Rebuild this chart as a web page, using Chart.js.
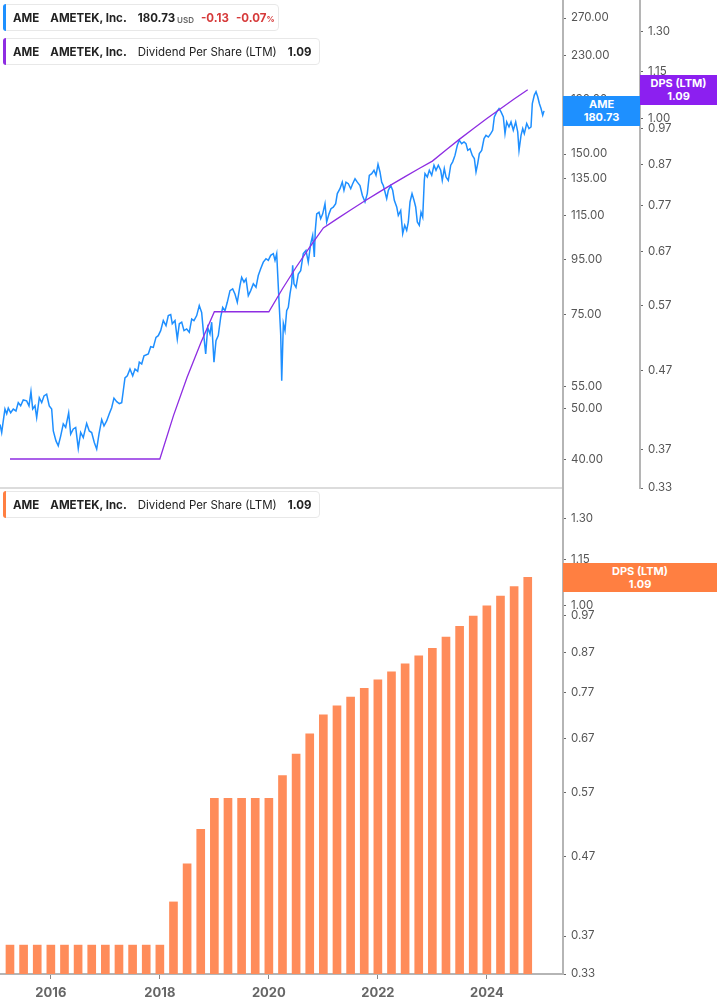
<!DOCTYPE html>
<html><head><meta charset="utf-8">
<script src="https://cdn.jsdelivr.net/npm/chart.js@4.4.1/dist/chart.umd.min.js"></script>
<style>
html,body{margin:0;padding:0;background:#fff;width:717px;height:1005px;overflow:hidden;font-family:Inter,"Noto Sans",sans-serif;}
#top{position:absolute;left:0;top:0;width:717px;height:497px;z-index:2;pointer-events:none;}
#bot{position:absolute;left:0;top:488px;width:717px;height:517px;z-index:1;}
.sep{position:absolute;left:0;top:487px;width:563px;height:2px;background:#dcdcdc;z-index:0;}
.leg{position:absolute;left:3px;height:27px;border:1px solid #e8e8e8;border-radius:4px;background:rgba(255,255,255,0.92);display:flex;align-items:center;padding-left:9px;font-size:11.5px;color:#222;white-space:nowrap;box-sizing:border-box;z-index:3;}
.leg .bar{position:absolute;left:-1px;top:-1px;bottom:-1px;width:3px;border-radius:3px 0 0 3px;}
.leg b{font-weight:700;}
.leg span{margin-right:11px;}
.sm{font-size:8px;color:#666;font-weight:600;margin-left:2px;position:relative;top:1px;}
.red{color:#d63a3a;font-weight:700;}
.box{position:absolute;color:#fff;font-weight:700;font-size:11px;line-height:13px;text-align:center;box-sizing:border-box;padding-top:2px;z-index:4;}
</style></head>
<body>
<div id="top"><canvas id="cTop" width="717" height="497"></canvas></div>
<div id="bot"><canvas id="cBot" width="717" height="517"></canvas></div>
<div class="sep"></div>

<div class="leg" style="top:4px;width:276px;"><div class="bar" style="background:#1e90ff"></div>
<span><b>AME</b></span><span><b>AMETEK, Inc.</b></span><span style="margin-right:7px"><b>180.73</b><span class="sm" style="margin-right:0">USD</span></span><span class="red" style="margin-right:7px">-0.13</span><span class="red">-0.07<span style="font-size:8px;margin:0">%</span></span></div>

<div class="leg" style="top:38px;width:317px;"><div class="bar" style="background:#8e2de2"></div>
<span><b>AME</b></span><span><b>AMETEK, Inc.</b></span><span>Dividend Per Share (LTM)</span><span><b>1.09</b></span></div>

<div class="leg" style="top:491px;width:317px;"><div class="bar" style="background:#ff7f41"></div>
<span><b>AME</b></span><span><b>AMETEK, Inc.</b></span><span>Dividend Per Share (LTM)</span><span><b>1.09</b></span></div>

<div class="box" style="left:563px;top:96px;width:77px;height:30px;background:#1e90ff;">AME<br>180.73</div>
<div class="box" style="left:640px;top:75px;width:77px;height:30px;background:#8c1ff0;">DPS (LTM)<br>1.09</div>
<div class="box" style="left:563px;top:563px;width:154px;height:29px;background:#ff7f41;">DPS (LTM)<br>1.09</div>

<script>
// ---- data ----
const priceDates = [2015.067,2015.098,2015.127,2015.158,2015.190,2015.219,2015.263,2015.311,2015.360,2015.402,2015.446,2015.494,2015.556,2015.599,2015.635,2015.667,2015.709,2015.740,2015.788,2015.832,2015.874,2015.923,2015.971,2016.015,2016.045,2016.094,2016.136,2016.180,2016.228,2016.272,2016.327,2016.364,2016.412,2016.456,2016.503,2016.547,2016.595,2016.657,2016.705,2016.749,2016.797,2016.841,2016.883,2016.933,2016.975,2017.024,2017.072,2017.116,2017.158,2017.208,2017.256,2017.300,2017.329,2017.360,2017.403,2017.452,2017.502,2017.544,2017.593,2017.623,2017.667,2017.709,2017.788,2017.832,2017.880,2017.929,2017.971,2018.015,2018.063,2018.113,2018.155,2018.199,2018.228,2018.278,2018.320,2018.357,2018.401,2018.443,2018.492,2018.540,2018.584,2018.626,2018.676,2018.723,2018.767,2018.797,2018.841,2018.878,2018.920,2018.951,2018.993,2019.030,2019.072,2019.116,2019.153,2019.195,2019.237,2019.287,2019.336,2019.378,2019.421,2019.470,2019.501,2019.544,2019.581,2019.623,2019.667,2019.715,2019.764,2019.806,2019.850,2019.898,2019.947,2019.990,2020.034,2020.082,2020.113,2020.144,2020.162,2020.192,2020.217,2020.236,2020.266,2020.296,2020.327,2020.357,2020.388,2020.419,2020.437,2020.461,2020.498,2020.540,2020.584,2020.632,2020.681,2020.723,2020.767,2020.804,2020.834,2020.852,2020.878,2020.920,2020.951,2020.988,2021.030,2021.061,2021.104,2021.140,2021.182,2021.226,2021.256,2021.305,2021.347,2021.378,2021.415,2021.458,2021.502,2021.538,2021.581,2021.623,2021.672,2021.715,2021.764,2021.806,2021.843,2021.887,2021.929,2021.966,2022.003,2022.039,2022.070,2022.100,2022.131,2022.162,2022.192,2022.236,2022.272,2022.302,2022.346,2022.375,2022.419,2022.456,2022.493,2022.529,2022.559,2022.590,2022.627,2022.663,2022.694,2022.724,2022.760,2022.792,2022.823,2022.852,2022.865,2022.907,2022.944,2022.988,2023.030,2023.067,2023.109,2023.153,2023.182,2023.219,2023.250,2023.293,2023.337,2023.373,2023.415,2023.458,2023.494,2023.538,2023.581,2023.617,2023.649,2023.691,2023.733,2023.770,2023.801,2023.832,2023.862,2023.905,2023.948,2023.984,2024.027,2024.071,2024.107,2024.137,2024.181,2024.223,2024.260,2024.302,2024.333,2024.364,2024.406,2024.443,2024.485,2024.529,2024.566,2024.590,2024.627,2024.658,2024.687,2024.731,2024.773,2024.810,2024.834,2024.871,2024.902,2024.933,2024.963,2024.994,2025.025,2025.049];
const priceValues = [46.6,45.0,47.3,49.8,48.8,50.0,49.0,49.8,49.4,51.2,50.5,51.8,51.6,50.5,53.7,49.8,50.5,48.0,52.3,51.2,52.7,53.1,50.5,49.8,45.3,43.4,42.5,44.3,46.7,46.0,49.0,44.7,45.7,46.0,42.0,45.0,44.0,46.8,45.3,45.0,43.1,41.9,44.7,47.6,46.3,47.3,48.8,50.1,52.2,51.4,51.0,51.2,53.9,57.0,57.5,59.2,57.5,59.2,58.6,61.0,60.5,62.7,63.2,65.2,65.0,67.9,68.4,69.9,73.0,71.4,74.6,74.9,72.0,73.0,67.4,72.0,72.5,69.9,70.4,69.4,73.5,73.0,74.6,77.9,75.6,69.9,63.2,70.9,68.9,72.5,61.0,66.9,68.4,74.0,77.3,76.2,79.0,83.1,83.7,81.9,79.0,84.9,88.0,86.2,87.4,81.3,83.1,85.6,84.3,88.7,91.3,94.0,95.4,94.7,96.8,97.5,94.7,97.5,89.3,77.3,68.9,56.3,72.1,69.9,76.2,77.3,81.9,85.6,92.7,85.6,84.3,89.3,90.6,97.5,98.9,94.0,101.7,105.5,96.1,107.8,115.8,116.6,113.4,115.8,121.0,111.8,115.8,118.4,119.2,121.0,126.4,129.1,132.8,128.2,132.8,131.9,129.1,131.9,134.8,132.8,130.9,125.5,121.9,126.4,136.8,137.8,139.8,136.8,143.5,138.8,132.8,130.9,127.3,123.7,128.2,130.9,128.2,122.8,119.3,115.0,117.5,106.3,110.2,107.8,111.8,121.9,126.4,122.8,119.3,111.8,110.2,116.6,114.1,133.8,137.8,135.8,139.8,136.8,142.9,139.8,142.9,139.8,133.8,140.8,135.8,133.8,142.9,145.0,149.1,155.8,159.2,156.9,158.0,156.9,152.4,153.5,149.1,147.1,138.8,143.9,150.3,152.4,160.4,162.6,161.4,163.8,166.2,176.1,180.0,182.6,180.0,176.1,163.8,172.3,168.6,172.3,166.2,172.3,165.0,152.4,162.6,167.4,163.8,171.1,167.4,168.6,186.6,193.5,196.3,192.1,186.6,182.6,177.4,180.73];
const dpsDates = [2015.25,2015.5,2015.75,2016.0,2016.25,2016.5,2016.75,2017.0,2017.25,2017.5,2017.75,2018.0,2018.25,2018.5,2018.75,2019.0,2019.25,2019.5,2019.75,2020.0,2020.25,2020.5,2020.75,2021.0,2021.25,2021.5,2021.75,2022.0,2022.25,2022.5,2022.75,2023.0,2023.25,2023.5,2023.75,2024.0,2024.25,2024.5,2024.75];
const dpsValues = [0.36,0.36,0.36,0.36,0.36,0.36,0.36,0.36,0.36,0.36,0.36,0.36,0.41,0.46,0.51,0.56,0.56,0.56,0.56,0.56,0.60,0.64,0.68,0.72,0.74,0.76,0.78,0.80,0.82,0.84,0.86,0.88,0.91,0.94,0.97,1.00,1.03,1.06,1.09];
const priceTicks = [40,50,55,75,95,115,135,150,190,230,270];
const dpsTicks = [0.33,0.37,0.47,0.57,0.67,0.77,0.87,0.97,1.00,1.15,1.30];
const yearTicks = [2016,2018,2020,2022,2024];

const FONT = 'Inter';
const X_MIN = 2015.067, X_MAX = 2025.397;
function yAxis(ticksArr, min, max, weight, width){
  return {
    type:'logarithmic', position:'right', min:min, max:max, weight:weight, bounds:'data',
    afterBuildTicks: s => { s.ticks = ticksArr.map(v => ({value:v})); },
    afterFit: s => { s.width = width; s.paddingTop = 0; s.paddingBottom = 0; },
    grid:{drawOnChartArea:false, drawTicks:true, tickLength:3, tickColor:'#666', tickWidth:1},
    border:{display:true, color:'#b5b5b5', width:2},
    ticks:{autoSkip:false, padding:5, color:'#555', font:{family:FONT, size:11.5}, callback: v => Number(v).toFixed(2)}
  };
}

new Chart(document.getElementById('cTop'), {
  type:'line',
  data:{datasets:[
    {label:'DPS', data: dpsDates.map((d,i)=>({x:d, y:dpsValues[i]})), yAxisID:'yD', borderColor:'#8e2de2', borderWidth:1.3, pointRadius:0, tension:0, fill:false},
    {label:'AME', data: priceDates.map((d,i)=>({x:d, y:priceValues[i]})), yAxisID:'yP', borderColor:'#1e8fff', borderWidth:1.5, pointRadius:0, tension:0, fill:false}
  ]},
  options:{
    responsive:false, animation:false, events:[],
    layout:{padding:{left:0,right:0,top:0,bottom:9}},
    plugins:{legend:{display:false}, tooltip:{enabled:false}},
    scales:{
      x:{type:'linear', min:X_MIN, max:X_MAX, bounds:'data', display:false},
      yP: yAxis(priceTicks, 35.4, 291.9, 0, 77),
      yD: yAxis(dpsTicks, 0.33, 1.427, 1, 77)
    }
  }
});

new Chart(document.getElementById('cBot'), {
  type:'bar',
  data:{datasets:[
    {label:'DPS', data: dpsDates.map((d,i)=>({x:d, y:dpsValues[i]})), yAxisID:'y', backgroundColor:'#ff8c5a', borderWidth:0, barThickness:8}
  ]},
  options:{
    responsive:false, animation:false, events:[],
    layout:{padding:0},
    plugins:{legend:{display:false}, tooltip:{enabled:false}},
    scales:{
      x:{type:'linear', min:X_MIN, max:X_MAX, bounds:'data', offset:false,
        afterBuildTicks: s => { s.ticks = yearTicks.map(v => ({value:v})); },
        afterFit: s => { s.height = 31; s.paddingLeft = 0; s.paddingRight = 0; },
        grid:{drawOnChartArea:false, drawTicks:true, tickLength:5, tickColor:'#888', offset:false},
        border:{display:true, color:'#b5b5b5', width:2},
        ticks:{autoSkip:false, maxRotation:0, padding:6, color:'#666', font:{family:FONT, size:13, weight:'bold'}, callback: v => String(v)}
      },
      y: yAxis(dpsTicks, 0.33, 1.426, 0, 154)
    }
  }
});
</script>
</body></html>
